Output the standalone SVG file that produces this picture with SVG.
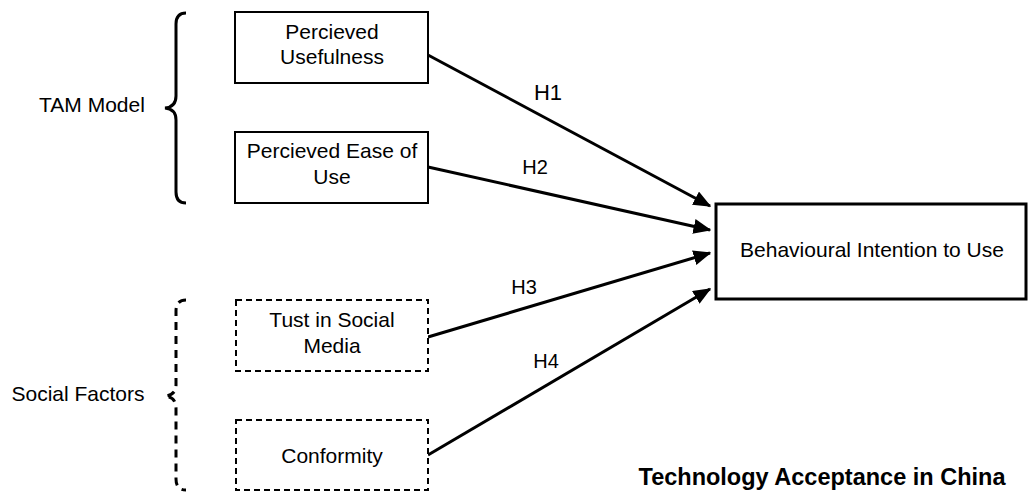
<svg xmlns="http://www.w3.org/2000/svg" width="1028" height="492" viewBox="0 0 1028 492">
<style>
text{font-family:"Liberation Sans",Arial,sans-serif;font-size:21px;fill:#000;text-anchor:middle}
.box{fill:#fff;stroke:#000;stroke-width:2}
.dash{fill:#fff;stroke:#000;stroke-width:2;stroke-dasharray:6 4}
.big{fill:#fff;stroke:#000;stroke-width:3}
.edge{stroke:#000;stroke-width:3;fill:none;marker-end:url(#ah)}
.brace{fill:none;stroke:#000;stroke-width:3}
</style>
<defs>
<marker id="ah" markerWidth="6" markerHeight="5" refX="5.5" refY="2.5" orient="auto" markerUnits="strokeWidth">
<path d="M0,0 L6,2.5 L0,5 Z" fill="#000"/>
</marker>
</defs>
<rect width="1028" height="492" fill="#fff"/>
<g id="tam-brace">
<path class="brace" d="M186,13 Q176,13 176,24 L176,96 Q176,107 165,108 Q176,109 176,120 L176,192 Q176,203 186,203"/>
<text x="92" y="112">TAM Model</text>
</g>
<g id="social-brace">
<path class="brace" stroke-dasharray="8 6" d="M186,300 Q176,300 176,311 L176,385 Q176,395 165,396 Q176,397 176,408 L176,479 Q176,490 186,490"/>
<text x="78" y="401">Social Factors</text>
</g>
<g id="connectors">
<line class="edge" x1="428" y1="55" x2="710" y2="206"/>
<line class="edge" x1="428" y1="167" x2="710" y2="230"/>
<line class="edge" x1="428" y1="337" x2="710" y2="253"/>
<line class="edge" x1="428" y1="455" x2="710" y2="289"/>
<text x="548" y="100" style="font-size:22px">H1</text>
<text x="535" y="174" style="font-size:20px">H2</text>
<text x="524" y="294" style="font-size:20px">H3</text>
<text x="546" y="368" style="font-size:20px">H4</text>
</g>
<g id="pu">
<rect class="box" x="235" y="12" width="193" height="71"/>
<text x="332" y="39">Percieved</text>
<text x="332" y="64">Usefulness</text>
</g>
<g id="peou">
<rect class="box" x="235" y="132" width="193" height="71"/>
<text x="332" y="158">Percieved Ease of</text>
<text x="332" y="184">Use</text>
</g>
<g id="trust">
<rect class="dash" x="236" y="300" width="192" height="71"/>
<text x="332" y="327">Tust in Social</text>
<text x="332" y="353">Media</text>
</g>
<g id="conformity">
<rect class="dash" x="236" y="420" width="192" height="70"/>
<text x="332" y="463">Conformity</text>
</g>
<g id="bi">
<rect class="big" x="716" y="204" width="310" height="95"/>
<text x="872" y="257">Behavioural Intention to Use</text>
</g>
<g id="title">
<text x="822" y="485" style="font-weight:bold;font-size:23.5px">Technology Acceptance in China</text>
</g>
</svg>
